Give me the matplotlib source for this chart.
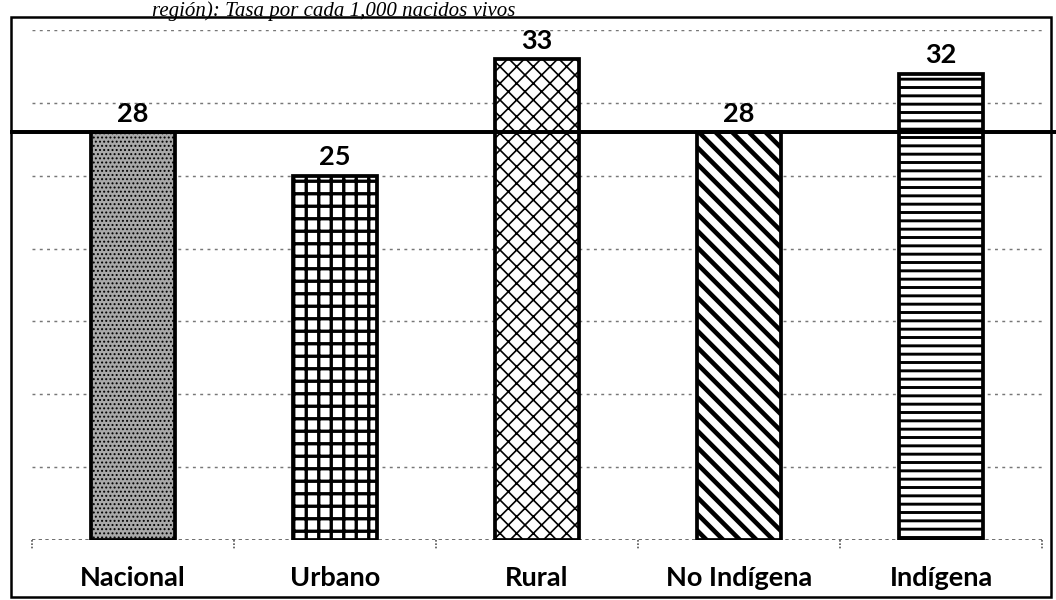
import matplotlib
matplotlib.use("Agg")
import matplotlib.pyplot as plt
from matplotlib.patches import Rectangle
from matplotlib.lines import Line2D

categories = ["Nacional", "Urbano", "Rural", "No Indígena", "Indígena"]
values = [28, 25, 33, 28, 32]
reference_value = 28
hatches = ["......", "++", "xxx", "\\\\\\", "---"]
facecolors = ["#a9a9a9", "white", "white", "white", "white"]
hatch_lw = [0.6, 1.6, 0.8, 2.2, 1.4]

W, H, DPI = 1056, 600, 150
fig = plt.figure(figsize=(W / DPI, H / DPI), dpi=DPI)
fig.patch.set_facecolor("white")

ax = fig.add_axes([32 / W, 1 - 540 / H, 1010 / W, 510 / H])
ax.set_xlim(-0.5, len(categories) - 0.5)
ax.set_ylim(0, 35)
for s in ax.spines.values():
    s.set_visible(False)
ax.set_xticks([])
ax.set_yticks([])

# dotted gridlines
for g in range(5, 36, 5):
    ax.axhline(g, color="#777777", lw=0.7, ls=(0, (2, 3)), zorder=0)
# dotted baseline with boundary ticks
ax.axhline(0, color="#555555", lw=0.8, ls=(0, (2, 2)), zorder=0)
for b in [i - 0.5 for i in range(len(categories) + 1)]:
    ax.plot([b, b], [0, -0.6], color="#555555", lw=0.8, ls=(0, (1, 1)),
            clip_on=False, zorder=0)

x = list(range(len(categories)))
width = 0.415
for i, (v, h, fc, hl) in enumerate(zip(values, hatches, facecolors, hatch_lw)):
    with plt.rc_context({"hatch.linewidth": hl, "hatch.color": "black"}):
        bars = ax.bar(x[i], v, width=width, color=fc, edgecolor="black",
                      hatch=h, linewidth=0, zorder=2)
        for b in bars:
            try:
                b.set_hatch_linewidth(hl)
            except Exception:
                pass
    ax.bar(x[i], v, width=width, facecolor="none", edgecolor="black",
           linewidth=1.8, zorder=3)
    ax.annotate(str(v), (x[i], v), xytext=(0, 3), textcoords="offset points",
                ha="center", va="bottom", fontsize=13, fontweight="bold",
                family="Lato", color="black", zorder=5)
    ax.text(x[i], -2.6, categories[i], ha="center", va="center",
            fontsize=13, fontweight="bold", family="Lato", color="black")

# reference line (national value)
ax.add_line(Line2D([-0.6, 4.62], [reference_value, reference_value],
                   color="black", lw=1.9, clip_on=False, zorder=4))

# outer frame
fig.add_artist(Rectangle((11 / W, 3 / H), 1040 / W, 580 / H,
                         transform=fig.transFigure, fill=False,
                         edgecolor="black", lw=1.2))

# caption at the top (cut off in the scan)
fig.text(515 / W, 1 - 1 / H, "región): Tasa por cada 1,000 nacidos vivos",
         ha="right", va="top", fontsize=10, style="italic",
         family="Liberation Serif", color="black")

fig.savefig("out.png", dpi=DPI, facecolor="white")
